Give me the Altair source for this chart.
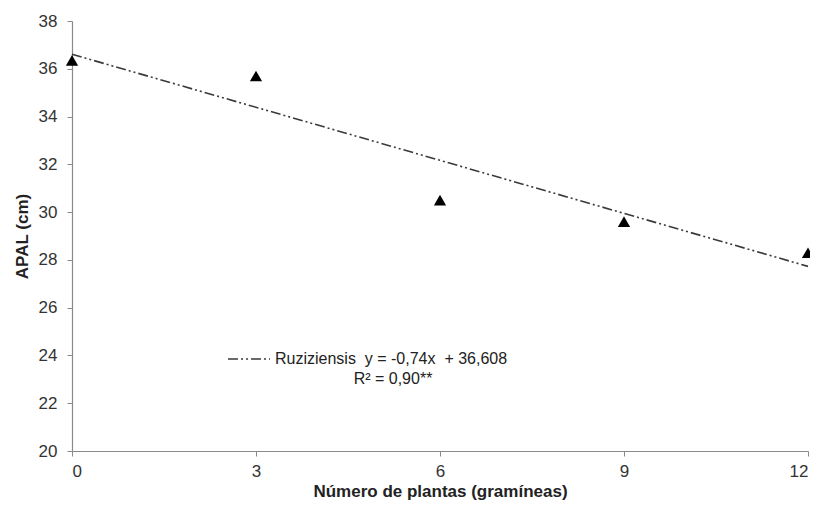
import altair as alt
import pandas as pd

# Data
x_vals = [0, 3, 6, 9, 12]
apal = [36.35, 35.7, 30.5, 29.6, 28.3]
fit_x = [0, 12]
fit_y = [36.608, 27.728]
series_label = "Ruziziensis\u00a0 y = -0,74x\u00a0 + 36,608"
r2_label = "R² = 0,90**"
x_ticks = [0, 3, 6, 9, 12]
y_ticks = [20, 22, 24, 26, 28, 30, 32, 34, 36, 38]

FONT = "Liberation Sans"

pts = pd.DataFrame({"x": x_vals, "y": apal})
fit = pd.DataFrame({"x": fit_x, "y": fit_y, "s": [series_label] * len(fit_x)})
r2 = pd.DataFrame({"t": [r2_label]})

xs = alt.Scale(domain=[0, 12], nice=False, zero=False)
ys = alt.Scale(domain=[20, 38], nice=False, zero=False)

x_axis = alt.Axis(values=x_ticks, title="Número de plantas (gramíneas)", grid=False,
                  labelPadding=7, titlePadding=4, format="d")
y_axis = alt.Axis(values=y_ticks, title="APAL (cm)", grid=False,
                  labelPadding=10, titlePadding=7, format="d")

line = alt.Chart(fit).mark_line(strokeWidth=1.6, strokeDash=[10, 3, 2, 3, 2, 3]).encode(
    x=alt.X("x:Q", scale=xs, axis=x_axis),
    y=alt.Y("y:Q", scale=ys, axis=y_axis),
    color=alt.Color("s:N", scale=alt.Scale(range=["#3a3a3a"]),
                    legend=alt.Legend(title=None, orient="none", legendX=155, legendY=316,
                                      symbolType="stroke", symbolSize=1764,
                                      symbolStrokeWidth=1.6, symbolDash=[10, 3, 2, 3, 2, 3],
                                      labelFont=FONT, labelFontSize=16, labelColor="#222",
                                      labelOffset=4, labelLimit=600, padding=0)),
)

points = alt.Chart(pts).mark_point(shape="triangle-up", filled=True, color="#000",
                                   size=150, opacity=1).encode(
    x=alt.X("x:Q", scale=xs),
    y=alt.Y("y:Q", scale=ys),
)

r2_text = alt.Chart(r2).mark_text(font=FONT, fontSize=16, color="#222",
                                  align="center", baseline="middle").encode(
    x=alt.value(321), y=alt.value(358), text="t:N"
)

chart = alt.layer(line, points, r2_text).properties(
    width=736, height=430,
    autosize=alt.AutoSizeParams(type="none"),
    padding={"left": 64, "top": 13, "right": 2, "bottom": 56},
).configure_view(stroke=None).configure_axis(
    labelFont=FONT, labelFontSize=17, labelColor="#333",
    titleFont=FONT, titleFontSize=17, titleFontWeight="bold", titleColor="#222",
    domainColor="#8a8a8a", tickColor="#8a8a8a", tickSize=5, domainWidth=1.2,
)

chart.save("out.html", embed_options={"renderer": "svg", "actions": False})
